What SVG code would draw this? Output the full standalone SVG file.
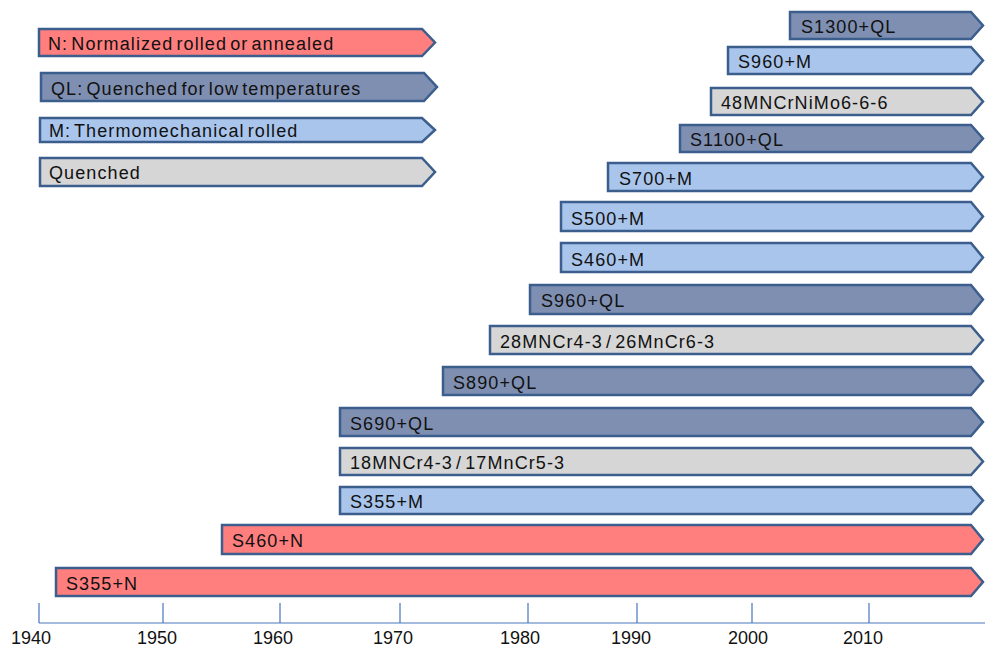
<svg xmlns="http://www.w3.org/2000/svg" width="985" height="649" viewBox="0 0 985 649">
<style>
.b{stroke:#3B5E8C;stroke-width:2.5;stroke-linejoin:miter}
.n{fill:#FF7F7F}.q{fill:#7F8FB2}.m{fill:#A9C5EC}.g{fill:#D6D6D6}
.t{font-family:"Liberation Sans",Arial,sans-serif;font-size:18px;fill:#111111;letter-spacing:1.1px;word-spacing:-3px}
.ax{stroke:#4A76C0;stroke-width:1.2;fill:none}
.yl{font-family:"Liberation Sans",Arial,sans-serif;font-size:18px;fill:#111111;text-anchor:middle}
</style>
<rect width="985" height="649" fill="#ffffff"/>
<g id="legend">
<g id="leg-n"><polygon class="b n" points="39,29 422,29 435,42.5 422,56 39,56"/><text class="t" x="48" y="49.5">N: Normalized rolled or annealed</text></g>
<g id="leg-ql"><polygon class="b q" points="41,73 424,73 437,87 424,101 41,101"/><text class="t" x="51" y="94.5">QL: Quenched for low temperatures</text></g>
<g id="leg-m"><polygon class="b m" points="40,118 422,118 435,130 422,142 40,142"/><text class="t" x="49" y="137">M: Thermomechanical rolled</text></g>
<g id="leg-qu"><polygon class="b g" points="40,158 422,158 435,172 422,186 40,186"/><text class="t" x="49" y="179">Quenched</text></g>
</g>
<g id="bars">
<g id="s1300ql"><polygon class="b q" points="790,12 971,12 983,25.5 971,39 790,39"/><text class="t" x="801" y="33">S1300+QL</text></g>
<g id="s960m"><polygon class="b m" points="728,47 971,47 983,60.5 971,74 728,74"/><text class="t" x="738" y="68">S960+M</text></g>
<g id="s48mn"><polygon class="b g" points="711,88 971,88 983,101.5 971,115 711,115"/><text class="t" x="721" y="109">48MNCrNiMo6-6-6</text></g>
<g id="s1100ql"><polygon class="b q" points="680,125 971,125 983,138.5 971,152 680,152"/><text class="t" x="690" y="146">S1100+QL</text></g>
<g id="s700m"><polygon class="b m" points="608,163 971,163 983,177 971,191 608,191"/><text class="t" x="619" y="184.5">S700+M</text></g>
<g id="s500m"><polygon class="b m" points="561,202 971,202 983,216.5 971,231 561,231"/><text class="t" x="571" y="224.5">S500+M</text></g>
<g id="s460m"><polygon class="b m" points="561,243 971,243 983,257.5 971,272 561,272"/><text class="t" x="571" y="265.5">S460+M</text></g>
<g id="s960ql"><polygon class="b q" points="530,285 971,285 983,299.5 971,314 530,314"/><text class="t" x="541" y="307">S960+QL</text></g>
<g id="s28mn"><polygon class="b g" points="490,326 971,326 983,340 971,354 490,354"/><text class="t" x="500" y="347.5">28MNCr4-3 / 26MnCr6-3</text></g>
<g id="s890ql"><polygon class="b q" points="443,367 971,367 983,381 971,395 443,395"/><text class="t" x="453" y="388.5">S890+QL</text></g>
<g id="s690ql"><polygon class="b q" points="340,408 971,408 983,422 971,436 340,436"/><text class="t" x="350" y="429.5">S690+QL</text></g>
<g id="s18mn"><polygon class="b g" points="340,448 971,448 983,461.5 971,475 340,475"/><text class="t" x="350" y="469">18MNCr4-3 / 17MnCr5-3</text></g>
<g id="s355m"><polygon class="b m" points="340,487 971,487 983,500.5 971,514 340,514"/><text class="t" x="350" y="508">S355+M</text></g>
<g id="s460n"><polygon class="b n" points="222,525 971,525 983,539.5 971,554 222,554"/><text class="t" x="232" y="547">S460+N</text></g>
<g id="s355n"><polygon class="b n" points="56,568 971,568 983,582 971,596 56,596"/><text class="t" x="66" y="589.5">S355+N</text></g>
</g>
<g id="axis">
<path class="ax" d="M39,623 H985 M39,603 V623 M163,603 V623 M280,603 V623 M400,603 V623 M528,603 V623 M637,603 V623 M752,603 V623 M869,603 V623"/>
<text class="yl" x="31" y="644">1940</text>
<text class="yl" x="157" y="644">1950</text>
<text class="yl" x="273" y="644">1960</text>
<text class="yl" x="393" y="644">1970</text>
<text class="yl" x="520" y="644">1980</text>
<text class="yl" x="631" y="644">1990</text>
<text class="yl" x="748" y="644">2000</text>
<text class="yl" x="863" y="644">2010</text>
</g>
</svg>
